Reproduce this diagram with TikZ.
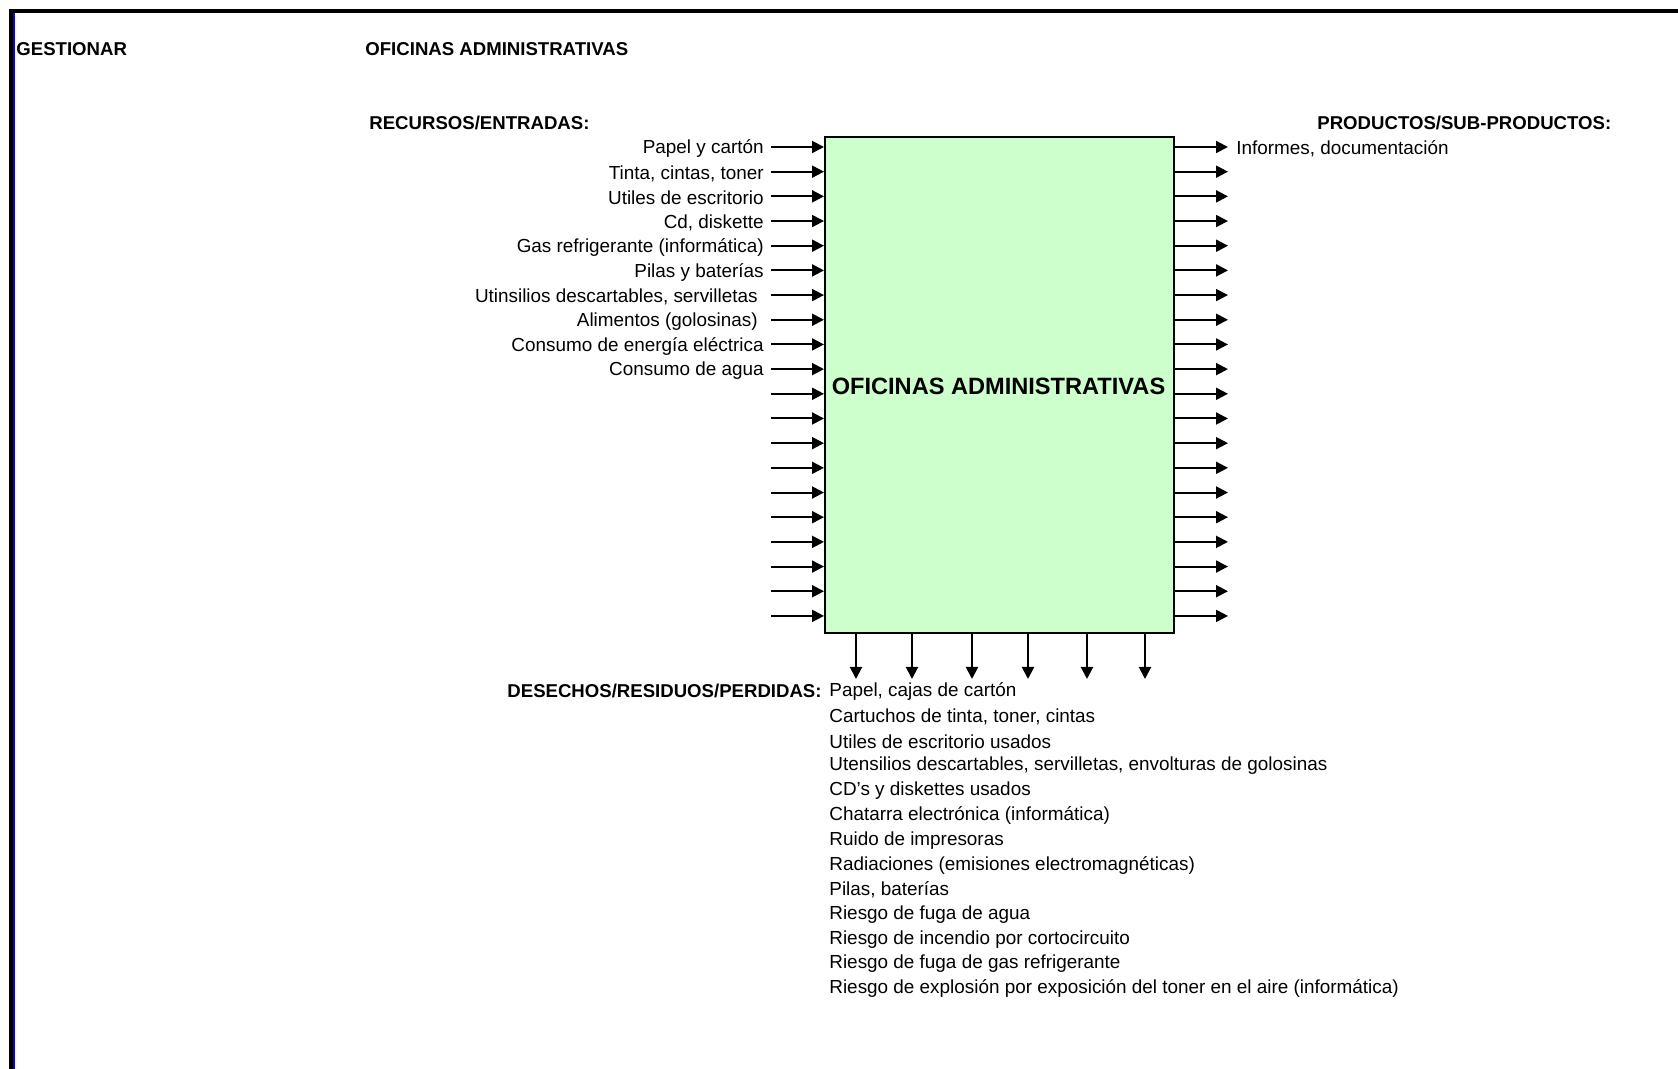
\documentclass[tikz,border=0pt]{standalone}
\usepackage{fontspec}
\setmainfont{Liberation Sans}
\usetikzlibrary{arrows.meta}
\definecolor{verdeclaro}{HTML}{CCFFCC}
\definecolor{azulborde}{HTML}{0000FF}

\begin{document}
\begin{tikzpicture}[x=0.5pt, y=-0.5pt,
    font=\fontsize{9.45}{11}\selectfont,
    flecha/.style={line width=1pt, -{Triangle[length=6pt, width=6pt]}},
    proceso/.style={draw, line width=1pt, fill=verdeclaro, inner sep=0pt},
    etiq/.style={inner sep=0pt, yshift=-0.9pt},
    negrita/.style={inner sep=0pt, yshift=-0.6pt, font=\fontsize{9.3}{11}\selectfont\bfseries}]

    % Page: 1678 x 1069 px, 1 px = 0.5pt, y grows downwards
    \useasboundingbox (0, 0) rectangle (1678, 1069);

    % Sheet border (black top and left, thin blue inside)
    \fill (9, 9) rectangle (1678, 13);
    \fill (9, 9) rectangle (13, 1069);
    \fill[azulborde] (13, 13) rectangle (15, 1069);

    % Headings
    \node[negrita, anchor=west] (gest) at (16, 48) {GESTIONAR};
    \node[negrita, anchor=west] (area) at (365, 48) {OFICINAS ADMINISTRATIVAS};
    \node[negrita, anchor=west] (recursos) at (369, 122) {RECURSOS/ENTRADAS:};
    \node[negrita, anchor=west] (productos) at (1317, 122) {PRODUCTOS/SUB-PRODUCTOS:};

    % Process box  x 824..1173, y 136..632
    \node[proceso, anchor=north west, minimum width=174.5pt, minimum height=248pt]
      (ofi) at (824, 136) {};
    \node[negrita, font=\fontsize{11.8}{13}\selectfont\bfseries] (tit) at (998.5, 385)
      {OFICINAS ADMINISTRATIVAS};

    % 20 rows of arrows, left (in) and right (out), step 24.68 px
    \foreach \i in {1,...,20} {
      \pgfmathsetmacro\yy{147 + (\i-1)*24.68}
      \coordinate (in\i) at (771, \yy);
      \coordinate (out\i) at (1228, \yy);
      \draw[flecha] (in\i) -- (in\i -| ofi.west);
      \draw[flecha] (out\i -| ofi.east) -- (out\i);
    }

    % Input labels
    \foreach \i/\lbl in {1/{Papel y cartón}, 2/{Tinta, cintas, toner},
        3/{Utiles de escritorio}, 4/{Cd, diskette},
        5/{Gas refrigerante (informática)}, 6/{Pilas y baterías},
        7/{Utinsilios descartables, servilletas\kern3pt}, 8/{Alimentos (golosinas)\kern3pt},
        9/{Consumo de energía eléctrica}, 10/{Consumo de agua}} {
      \node[etiq, anchor=east] (lin\i) at ([xshift=-3.5pt]in\i) {\lbl};
    }

    % Output label
    \node[etiq, anchor=west] (lout1) at ([xshift=4pt]out1) {Informes, documentación};

    % Waste arrows below the box
    \foreach \j/\xx in {1/856, 2/912, 3/972, 4/1028, 5/1087, 6/1145} {
      \coordinate (des\j) at (\xx, 679);
      \draw[flecha] (des\j |- ofi.south) -- (des\j);
    }

    % Waste list
    \node[negrita, anchor=east] (desechos) at (822, 690) {DESECHOS/RESIDUOS/PERDIDAS:};
    \foreach \k/\lbl in {0/{Papel, cajas de cartón},
        1/{Cartuchos de tinta, toner, cintas},
        2/{Utiles de escritorio usados},
        3/{Utensilios descartables, servilletas, envolturas de golosinas},
        4/{CD's y diskettes usados},
        5/{Chatarra electrónica (informática)},
        6/{Ruido de impresoras},
        7/{Radiaciones (emisiones electromagnéticas)},
        8/{Pilas, baterías},
        9/{Riesgo de fuga de agua},
        10/{Riesgo de incendio por cortocircuito},
        11/{Riesgo de fuga de gas refrigerante},
        12/{Riesgo de explosión por exposición del toner en el aire (informática)}} {
      \pgfmathsetmacro\yy{690 + \k*24.75}
      \node[etiq, anchor=west] (res\k) at (829, \yy) {\lbl};
    }

\end{tikzpicture}
\end{document}
